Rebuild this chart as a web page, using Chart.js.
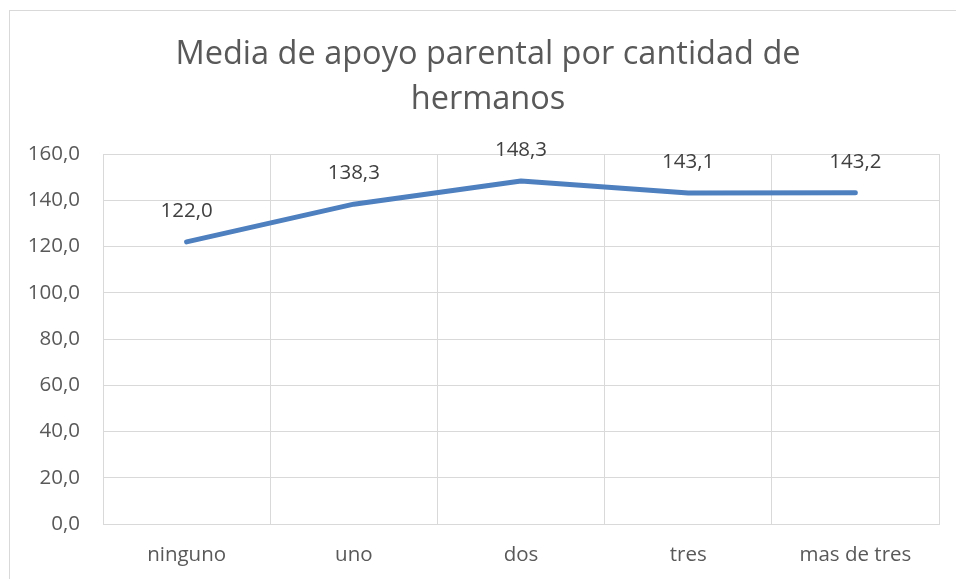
<!DOCTYPE html>
<html>
<head>
<meta charset="utf-8">
<script src="https://cdn.jsdelivr.net/npm/chart.js@4"></script>
<style>
  html, body { margin: 0; padding: 0; background: #fff; overflow: hidden; }
  #wrap { position: relative; width: 956px; height: 579px; }
  #frame { position: absolute; left: 9px; top: 10px; width: 2000px; height: 2000px; border: 1px solid #d9d9d9; box-sizing: border-box; }
  canvas { position: absolute; left: 0; top: 0; }
</style>
</head>
<body>
<div id="wrap">
  <div id="frame"></div>
  <canvas id="c" width="956" height="579"></canvas>
</div>
<script>
const titleLines = ["Media de apoyo parental por cantidad de", "hermanos"];
const categories = ["ninguno", "uno", "dos", "tres", "mas de tres"];
const meanSupport = [122.0, 138.3, 148.3, 143.1, 143.2];
const yMin = 0, yMax = 160, yStep = 20;

const fmt = v => Number(v).toFixed(1).replace('.', ',');
const FONT = "'Open Sans', 'Noto Sans', sans-serif";

const titleText = {
  id: 'titleText',
  afterDraw(chart) {
    const ctx = chart.ctx;
    ctx.save();
    ctx.font = "32.5px " + FONT;
    ctx.fillStyle = '#595959';
    ctx.textAlign = 'center';
    ctx.textBaseline = 'middle';
    titleLines.forEach((t, i) => ctx.fillText(t, 488, 55 + i * 45));
    ctx.restore();
  }
};

const dataLabels = {
  id: 'dataLabels',
  afterDatasetsDraw(chart) {
    const ctx = chart.ctx;
    const meta = chart.getDatasetMeta(0);
    ctx.save();
    ctx.font = "20.5px " + FONT;
    ctx.fillStyle = '#404040';
    ctx.textAlign = 'center';
    ctx.textBaseline = 'middle';
    meta.data.forEach((pt, i) => {
      ctx.fillText(fmt(meanSupport[i]), pt.x, pt.y - 31);
    });
    ctx.restore();
  }
};

new Chart(document.getElementById('c'), {
  type: 'line',
  data: {
    labels: categories,
    datasets: [{
      data: meanSupport,
      borderColor: '#4E7FBF',
      borderWidth: 5,
      borderCapStyle: 'round',
      borderJoinStyle: 'round',
      pointRadius: 0,
      fill: false,
      tension: 0
    }]
  },
  options: {
    responsive: false,
    animation: false,
    devicePixelRatio: 1,
    layout: { padding: { left: 10, right: 17, top: 154, bottom: 0 } },
    plugins: {
      legend: { display: false },
      tooltip: { enabled: false },
      title: { display: false }
    },
    scales: {
      x: {
        offset: true,
        grid: { offset: true, color: '#d9d9d9', lineWidth: 1, drawTicks: false },
        border: { color: '#d9d9d9', width: 1 },
        ticks: { color: '#595959', font: { family: FONT, size: 20.5 }, padding: 19, maxRotation: 0 },
        afterFit(s) { s.height = 55; }
      },
      y: {
        min: yMin, max: yMax,
        grid: { color: '#d9d9d9', lineWidth: 1, drawTicks: false },
        border: { display: false },
        ticks: { stepSize: yStep, color: '#595959', font: { family: FONT, size: 20.5 }, padding: 23, callback: v => fmt(v) },
        afterFit(s) { s.width = 93; }
      }
    }
  },
  plugins: [dataLabels, titleText]
});
</script>
</body>
</html>
